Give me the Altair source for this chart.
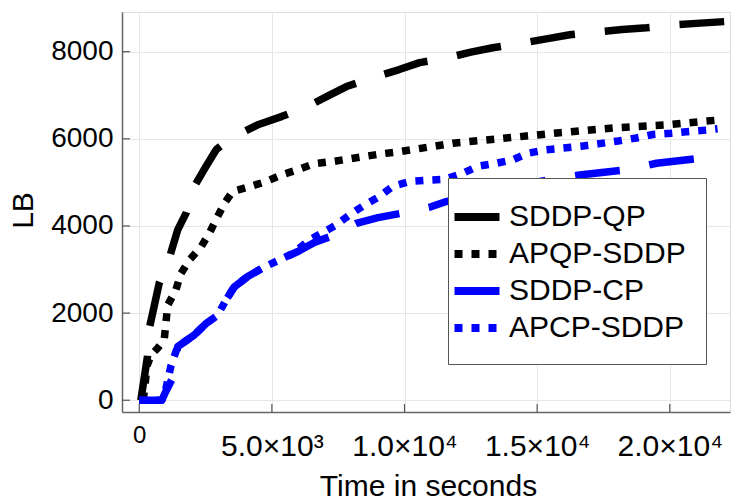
import altair as alt
import pandas as pd

FONT = "Liberation Sans"

series_names = ["SDDP-QP", "APQP-SDDP", "SDDP-CP", "APCP-SDDP"]
series_colors = ["#000000", "#000000", "#0000ff", "#0000ff"]
series_dashes = [[45, 30], [8, 9], [45, 30], [8, 9]]

qp_t = [60, 310, 380, 750, 1130, 1450, 1770, 2070, 2500, 2900, 3300, 3700, 4500, 5360,
        6340, 7100, 7810, 8940, 9800, 10570, 11620, 12500, 13320, 14450, 15400, 16230,
        17360, 18200, 19130, 20260, 21000, 22050]
qp_lb = [0, 1000, 1650, 2680, 3260, 3910, 4300, 4900, 5350, 5750, 5950, 6090, 6330, 6510,
         6740, 6980, 7200, 7430, 7590, 7750, 7860, 7990, 8090, 8200, 8300, 8390,
         8460, 8510, 8550, 8620, 8650, 8690]

apqp_t = [150, 300, 440, 700, 940, 1010, 1070, 1380, 1570, 1890, 2330, 2640, 2890, 3210,
          3520, 4150, 4780, 5350, 5970, 6600, 7300, 7920, 8550, 9180, 9870, 10500, 11830,
          13840, 15850, 17860, 19870, 21260, 21800]
apqp_lb = [0, 800, 1030, 1200, 1380, 1800, 2180, 2530, 2910, 3220, 3520, 3830, 4140, 4520,
           4790, 4900, 5020, 5170, 5290, 5430, 5480, 5540, 5600, 5660, 5710, 5770, 5900,
           6020, 6140, 6250, 6320, 6400, 6430]

cp_t = [0, 850, 1000, 1250, 1450, 2080, 2520, 2950, 3270, 3580, 4090, 4720, 5280, 6000,
        6600, 7170, 8180, 9000, 9870, 11000, 11570, 13000, 14500, 15500, 16600, 18370,
        19500, 21260, 21700]
cp_lb = [0, 0, 200, 500, 1230, 1500, 1760, 1950, 2300, 2600, 2840, 3060, 3220, 3420,
         3620, 3750, 4060, 4190, 4290, 4440, 4560, 4750, 4950, 5070, 5170, 5290,
         5440, 5560, 5590]

apcp_t = [0, 850, 1000, 1200, 1450, 2080, 2520, 2950, 3270, 3580, 4090, 4720, 5280, 5790,
          6420, 7420, 7920, 8490, 9060, 9560, 10190, 10880, 11510, 12200, 12770, 13460,
          14090, 14650, 15350, 16670, 17360, 18050, 18740, 19370, 20060, 20750, 21380, 21800]
apcp_lb = [0, 0, 250, 800, 1230, 1500, 1760, 1950, 2300, 2600, 2840, 3060, 3220, 3370,
           3680, 4020, 4250, 4480, 4680, 4910, 5020, 5050, 5070, 5210, 5370, 5440,
           5520, 5670, 5750, 5830, 5890, 5950, 6020, 6100, 6130, 6170, 6200, 6230]

x_ticks = [0, 5000, 10000, 15000, 20000]
x_tick_labels = ["0", "5.0×10³", "1.0×10⁴", "1.5×10⁴", "2.0×10⁴"]
y_ticks = [0, 2000, 4000, 6000, 8000]

rows = []
for name, ts, lbs in zip(series_names, [qp_t, apqp_t, cp_t, apcp_t],
                         [qp_lb, apqp_lb, cp_lb, apcp_lb]):
    for i, (t, v) in enumerate(zip(ts, lbs)):
        rows.append({"t": t, "lb": v, "series": name, "i": i})
df = pd.DataFrame(rows)

x_scale = alt.Scale(domain=[-650, 22270], nice=False, zero=False)
y_scale = alt.Scale(domain=[-270, 8911], nice=False, zero=False)

label_expr = " : ".join(
    f"datum.value == {v} ? '{l}'" for v, l in zip(x_ticks[:-1], x_tick_labels[:-1])
) + f" : '{x_tick_labels[-1]}'"

x_axis = alt.Axis(
    values=x_ticks, labelExpr=label_expr, labelFont=FONT,
    labelFontSize={"condition": {"test": "datum.value == 0", "value": 24}, "value": 30},
    labelPadding={"condition": {"test": "datum.value == 0", "value": 11}, "value": 19},
    labelBaseline="top", labelColor="black", labelFlush=False, labelOverlap=False,
    ticks=False, grid=True, gridColor="#e6e6e6", gridWidth=1,
    domainColor="#666666", domainWidth=1.5,
    title="Time in seconds", titleFont=FONT, titleFontSize=30, titleFontWeight="normal",
    titleColor="black", titleX=306, titleY=83, titleBaseline="alphabetic", titleAlign="center",
)
y_axis = alt.Axis(
    values=y_ticks, format="d", labelFont=FONT, labelFontSize=28, labelColor="black",
    labelPadding=9, ticks=False, grid=True, gridColor="#e6e6e6", gridWidth=1,
    domainColor="#666666", domainWidth=1.5,
    title="LB", titleFont=FONT, titleFontSize=30, titleFontWeight="normal",
    titleColor="black", titleX=-90, titleY=198, titleBaseline="alphabetic", titleAlign="center",
)

legend = alt.Legend(
    title=None, orient="none", legendX=326, legendY=166,
    symbolType="M-1.5,0H1.5", symbolSize=900, symbolStrokeWidth=8,
    labelFont=FONT, labelFontSize=30, labelColor="black", labelLimit=400,
    labelOffset=13, symbolOffset={"expr": "-10"}, padding=20, rowPadding=2,
    fillColor="white", strokeColor="#555555",
)

lines = alt.Chart(df).mark_line(strokeWidth=7.5, strokeCap="butt", strokeJoin="round").encode(
    x=alt.X("t:Q", scale=x_scale, axis=x_axis),
    y=alt.Y("lb:Q", scale=y_scale, axis=y_axis),
    color=alt.Color("series:N", scale=alt.Scale(domain=series_names, range=series_colors),
                    legend=legend, sort=series_names),
    strokeDash=alt.StrokeDash("series:N", scale=alt.Scale(domain=series_names, range=series_dashes),
                              legend=legend, sort=series_names),
    order=alt.Order("i:Q"),
)

xt = alt.Chart(pd.DataFrame({"t": x_ticks})).mark_rule(color="#555555", strokeWidth=1.2).encode(
    x=alt.X("t:Q", scale=x_scale), y=alt.value(400), y2=alt.value(392)
)
yt = alt.Chart(pd.DataFrame({"lb": y_ticks})).mark_rule(color="#555555", strokeWidth=1.2).encode(
    y=alt.Y("lb:Q", scale=y_scale), x=alt.value(0), x2=alt.value(8)
)

chart = alt.layer(xt, yt, lines).properties(
    width=608, height=400,
    autosize=alt.AutoSizeParams(type="none"),
    padding={"left": 114, "top": 4, "right": 12, "bottom": 88},
).configure_view(stroke="#999999", strokeWidth=1.5).configure(background="white")

chart.save("out.html", embed_options={"renderer": "svg", "actions": False})
